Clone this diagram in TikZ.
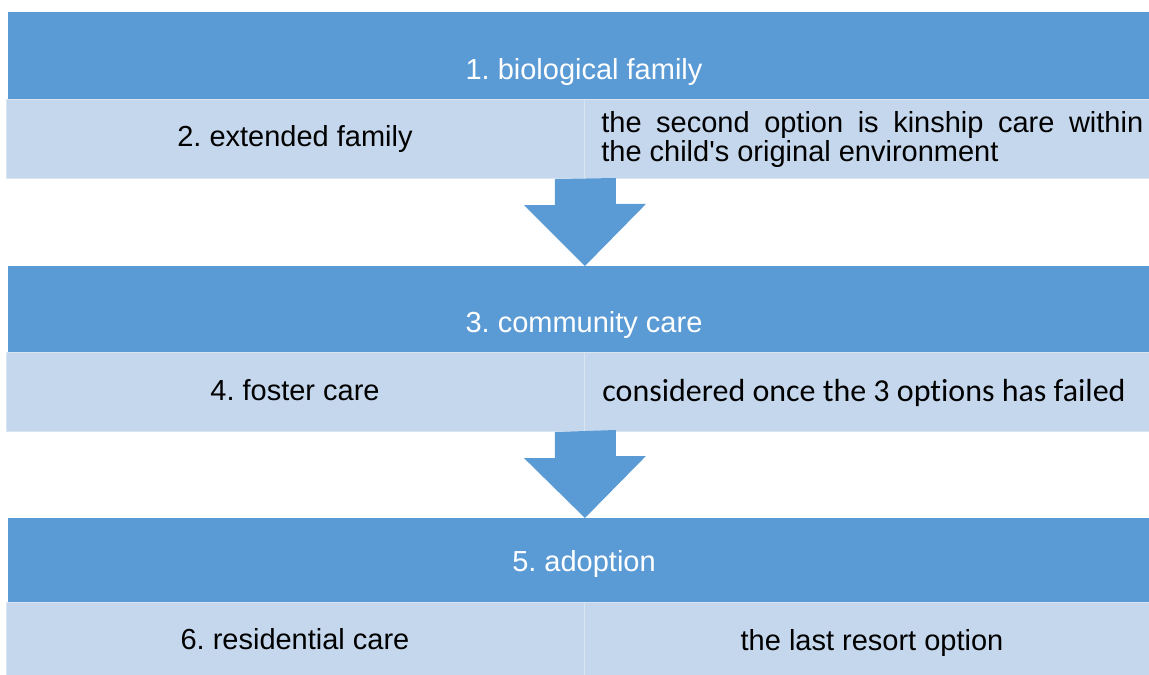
\documentclass[tikz,border=0pt]{standalone}
\usepackage{fontspec}
\setmainfont{Liberation Sans}
\newfontfamily\calibri[Ligatures=NoCommon]{Carlito}
\usetikzlibrary{positioning}
\frenchspacing
\definecolor{bandblue}{RGB}{91,155,213}
\definecolor{cellblue}{RGB}{197,215,236}
\definecolor{celledge}{RGB}{218,229,243}
\tikzset{
	band/.style={fill=bandblue,inner sep=0,minimum width=22.82cm,anchor=north west},
	cell/.style={fill=cellblue,draw=celledge,line width=0.6pt,inner sep=0,minimum height=1.58cm,anchor=north west},
	title/.style={text=white,anchor=base,font=\fontsize{16.5}{16.5}\selectfont},
	item/.style={anchor=base,font=\fontsize{16.5}{16.5}\selectfont},
	down/.style={fill=bandblue}
}

\begin{document}
\begin{tikzpicture}[x=0.02cm,y=-0.02cm]
	\useasboundingbox (0,0) rectangle (1149,675);
	% dark bands
	\node[band,minimum height=1.74cm] (b1) at (8,12) {};
	\node[band,minimum height=1.72cm] (b2) at (8,266) {};
	\node[band,minimum height=1.68cm] (b3) at (8,518) {};
	% light rows, two cells each
	\node[cell,minimum width=11.56cm] (r1l) at (6,99) {};
	\node[cell,minimum width=11.3cm] (r1r) at (584,99) {};
	\node[cell,minimum width=11.56cm] (r2l) at (6,352) {};
	\node[cell,minimum width=11.3cm] (r2r) at (584,352) {};
	\node[cell,minimum width=11.56cm] (r3l) at (6,602) {};
	\node[cell,minimum width=11.3cm] (r3r) at (584,602) {};
	% block arrows between the rows and the next band
	\foreach \a/\b in {r1l/b2,r2l/b3}
		\fill[down] (\a.south east) ++(-30,0) -- ++(0,26) -- ++(-31,0)
		-- (\b.north -| \a.south east) -- ++(61,-62) -- ++(-30,0) -- ++(0,-26) -- cycle;
	% texts
	\node[title] (t1) at (584,80) {1. biological family};
	\node[title] (t2) at (584,333) {3. community care};
	\node[title] (t3) at (584,571) {5. adoption};
	\node[item] (i1) at (295,147) {2. extended family};
	\node[item] (i2) at (295,400) {4. foster care};
	\node[item] (i3) at (295,649) {6. residential care};
	\node[anchor=west,inner sep=0,text width=10.84cm,align=justify,
		font=\fontsize{16.5}{16.5}\selectfont] (n1) at (601,140)
		{the second option is kinship care within\linebreak the child\textquotesingle s original environment};
	\node[item,font=\calibri\fontsize{18.2}{18.2}\selectfont] (n2) at (864,401)
		{considered once the 3 options has failed};
	\node[item] (n3) at (872,650) {the last resort option};
\end{tikzpicture}
\end{document}
